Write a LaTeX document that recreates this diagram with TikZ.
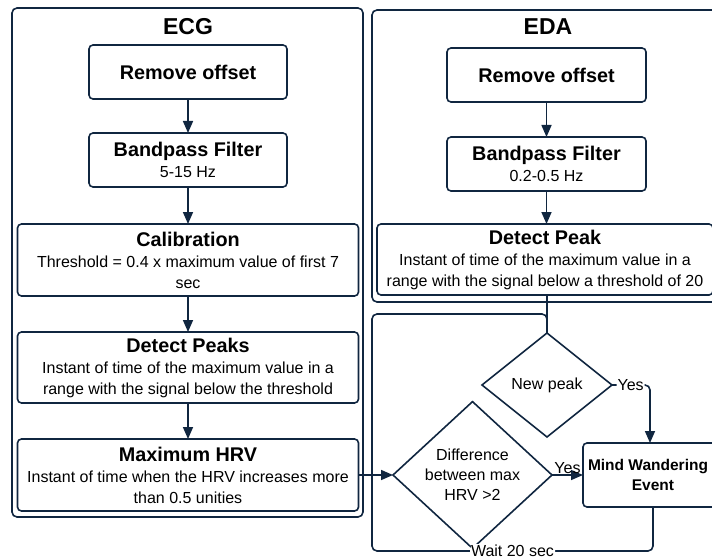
\documentclass[tikz,border=0pt]{standalone}
\usepackage{fontspec}
\setmainfont{Liberation Sans}
\usepackage{tikz}
\usetikzlibrary{positioning}
\usetikzlibrary{shapes.geometric}
\usetikzlibrary{arrows.meta}
\definecolor{navy}{RGB}{16,38,64}
\newcommand{\boxtitle}[1]{{\fontsize{19.8}{23}\selectfont\bfseries #1}}

\begin{document}
\begin{tikzpicture}[
        x = 1pt, y = -1pt,
        group/.style = {
            draw = navy,
            line width = 1.6pt,
            rounded corners = 5pt
        },
        box/.style = {
            draw = navy,
            line width = 1.6pt,
            rounded corners = 4pt,
            align = center,
            inner sep = 0pt,
            outer sep = 0pt,
            minimum width = #1,
            minimum height = 54pt,
            font = \fontsize{16}{21}\selectfont
        },
        box/.default = 198pt,
        decision/.style = {
            draw = navy,
            diamond,
            line width = 1.6pt,
            inner sep = 0pt,
            outer sep = 0pt,
            align = center,
            font = \fontsize{16}{20}\selectfont
        },
        link/.style = {draw = navy, line width = 1.6pt},
        arrow/.style = {link, -{Triangle[length=12pt, width=10pt]}},
        tag/.style = {fill = white, inner sep = 1pt, font = \fontsize{16}{20}\selectfont},
        node distance = {35pt}
        ]
        \useasboundingbox (0,0) rectangle (712,559);
%
        \draw[group] (12,8) rectangle (363,517);
        \draw[group] (372,10) rectangle (730,302);
        \node[font=\fontsize{23}{26}\selectfont\bfseries] (ecgtitle) at (188,27) {ECG};
        \node[font=\fontsize{23}{26}\selectfont\bfseries] (edatitle) at (548,27) {EDA};
%
        \node[box] (ecgoffset) at (188,72) {\boxtitle{Remove offset}};
        \node[box] (ecgfilter) [below=34pt of ecgoffset] {\boxtitle{Bandpass Filter}\\5-15 Hz};
        \node[box=341pt, minimum height=72pt] (calib) [below=37pt of ecgfilter]
            {\boxtitle{Calibration}\\Threshold = 0.4 x maximum value of first 7\\sec};
        \node[box=341pt, minimum height=71pt] (ecgpeaks) [below=36pt of calib]
            {\boxtitle{Detect Peaks}\\Instant of time of the maximum value in a\\range with the signal below the threshold};
        \node[box=341pt, minimum height=72pt] (maxhrv) [below=36pt of ecgpeaks]
            {\boxtitle{Maximum HRV}\\Instant of time when the HRV increases more\\than 0.5 unities};
%
        \node[box=199pt] (edaoffset) at (546.5,75) {\boxtitle{Remove offset}};
        \node[box=199pt] (edafilter) [below=35pt of edaoffset] {\boxtitle{Bandpass Filter}\\0.2-0.5 Hz};
        \node[box=336pt, minimum height=71pt] (edapeak) [below=33pt of edafilter, xshift=-1.5pt]
            {\boxtitle{Detect Peak}\\Instant of time of the maximum value in a\\range with the signal below a threshold of 20};
%
        \node[decision, minimum width=130pt, minimum height=104pt] (newpeak) at (547,385) {New peak};
        \node[decision, minimum width=159pt, minimum height=122pt] (diff) at (472.5,475)
            {Difference\\between max\\HRV >2};
        \node[box=140pt, minimum height=64pt, font=\fontsize{15.5}{20}\selectfont\bfseries] (event) at (653,475)
            {\hspace*{-10pt}Mind Wandering\\Event};
%
        \coordinate (waitL) at (372,551);
        \coordinate (waitT) at (372,314);
%
        \draw[arrow] (ecgoffset) -- (ecgfilter);
        \draw[arrow] (ecgfilter) -- (calib);
        \draw[arrow] (calib) -- (ecgpeaks);
        \draw[arrow] (ecgpeaks) -- (maxhrv);
        \draw[arrow] (edaoffset) -- (edafilter);
        \draw[arrow] (edafilter.south) -- (edafilter.south |- edapeak.north);
%
        \draw[link] (edapeak.south -| newpeak.north) -- (newpeak.north);
        \draw[arrow] (maxhrv.east) -- (diff.west);
        \draw[arrow] (diff.east) -- node[tag, above, fill=none]{Yes} (event.west);
        \draw[arrow, rounded corners=5pt] (newpeak.east) -| node[tag, pos=0.245]{Yes} ([xshift=-3pt]event.north);
        \draw[link, rounded corners=5pt] (event.south) |- node[tag, pos=0.75]{Wait 20 sec} (waitL)
            -- (waitT) -| (newpeak.north);
    \end{tikzpicture}
\end{document}
